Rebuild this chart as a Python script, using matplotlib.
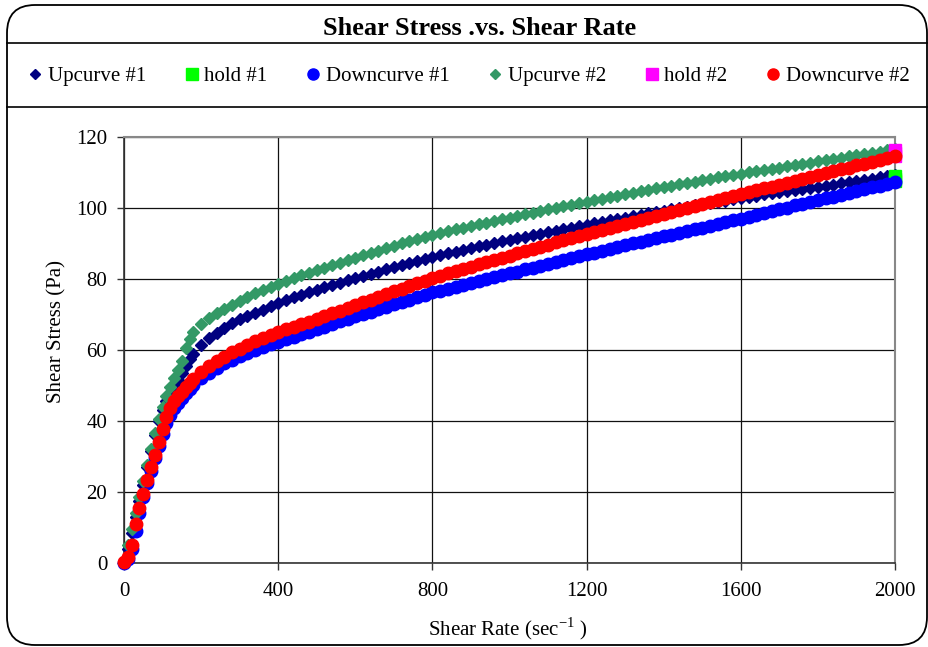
import matplotlib
matplotlib.use('Agg')
import matplotlib.pyplot as plt
from matplotlib.patches import FancyBboxPatch
from matplotlib.lines import Line2D

plt.rcParams['font.family'] = ['Liberation Serif', 'DejaVu Serif']
plt.rcParams['mathtext.fontset'] = 'custom'
plt.rcParams['mathtext.rm'] = 'Liberation Serif'

# shear rate (sec^-1), shared by all four curves
shear_rate = [0, 10, 20, 30, 40, 50, 60, 70, 80, 90, 100, 110, 120, 130, 140, 150, 160, 170, 180,
              200, 220, 240, 260, 280, 300, 320, 340, 360, 380, 400, 420, 440, 460, 480, 500,
              520, 540, 560, 580, 600, 620, 640, 660, 680, 700, 720, 740, 760, 780, 800,
              820, 840, 860, 880, 900, 920, 940, 960, 980, 1000, 1020, 1040, 1060, 1080, 1100,
              1120, 1140, 1160, 1180, 1200, 1220, 1240, 1260, 1280, 1300, 1320, 1340, 1360, 1380, 1400,
              1420, 1440, 1460, 1480, 1500, 1520, 1540, 1560, 1580, 1600, 1620, 1640, 1660, 1680, 1700,
              1720, 1740, 1760, 1780, 1800, 1820, 1840, 1860, 1880, 1900, 1920, 1940, 1960, 1980, 2000]

up_1 = [0.5, 4, 8.5, 13, 17.5, 22, 27, 31.5, 36, 40, 43, 45.5, 47.5, 49.5, 51.5, 53.5, 55.5, 57.5, 59,
        61.5, 63.3, 64.9, 66.3, 67.5, 68.6, 69.6, 70.5, 71.4, 72.3, 73.2, 74, 74.8, 75.6, 76.3, 77,
        77.7, 78.3, 79, 79.6, 80.3, 80.9, 81.5, 82.1, 82.7, 83.3, 83.9, 84.5, 85.1, 85.6, 86.2,
        86.7, 87.2, 87.7, 88.2, 88.7, 89.2, 89.7, 90.1, 90.6, 91.1, 91.5, 91.9, 92.4, 92.8, 93.2,
        93.6, 94.1, 94.5, 94.9, 95.3, 95.7, 96.1, 96.5, 96.9, 97.3, 97.7, 98.1, 98.5, 98.8, 99.2,
        99.6, 99.9, 100.3, 100.7, 101, 101.4, 101.7, 102.1, 102.4, 102.8, 103.1, 103.4, 103.8, 104.1, 104.4,
        104.7, 105, 105.4, 105.7, 106, 106.3, 106.6, 107, 107.3, 107.6, 107.9, 108.2, 108.6, 108.9, 109.2]

down_1 = [0, 1, 4, 9, 14, 18.5, 22.5, 26, 29.5, 33, 36.3, 39.3, 41.8, 43.6, 45.2, 46.6, 47.9, 49.1, 50.2,
          52, 53.6, 55, 56.2, 57.3, 58.3, 59.2, 60.1, 60.9, 61.6, 62.3, 63, 63.7, 64.5, 65.2, 65.9,
          66.6, 67.3, 68.1, 68.8, 69.5, 70.2, 70.8, 71.5, 72.2, 72.9, 73.5, 74.2, 74.9, 75.5, 76.2,
          76.7, 77.3, 77.8, 78.4, 78.9, 79.4, 80, 80.5, 81.1, 81.6, 82.1, 82.7, 83.2, 83.7, 84.3,
          84.8, 85.3, 85.8, 86.4, 86.9, 87.4, 87.9, 88.4, 88.9, 89.5, 90, 90.5, 91, 91.5, 92,
          92.5, 93, 93.5, 94, 94.5, 95, 95.5, 96, 96.5, 97, 97.5, 98.1, 98.6, 99.1, 99.6,
          100.1, 100.7, 101.2, 101.7, 102.2, 102.7, 103.2, 103.7, 104.2, 104.8, 105.3, 105.8, 106.3, 106.8, 107.3]

up_2 = [0.5, 5, 9.5, 14, 18.5, 23, 27.5, 32, 36.5, 40.5, 44, 47, 49.5, 52, 54.5, 57, 60.5, 63, 65,
        67.3, 68.9, 70.3, 71.6, 72.8, 73.9, 75, 76, 76.9, 77.8, 78.7, 79.5, 80.3, 81, 81.8, 82.5,
        83.2, 83.9, 84.6, 85.3, 86, 86.7, 87.4, 88, 88.7, 89.3, 90, 90.6, 91.3, 91.9, 92.5,
        93, 93.5, 94, 94.4, 94.9, 95.4, 95.9, 96.4, 96.8, 97.3, 97.8, 98.2, 98.7, 99.1, 99.6,
        100, 100.5, 100.9, 101.4, 101.8, 102.2, 102.6, 103, 103.4, 103.9, 104.3, 104.7, 105.1, 105.5, 105.9,
        106.3, 106.7, 107, 107.4, 107.8, 108.2, 108.6, 108.9, 109.3, 109.7, 110, 110.4, 110.7, 111.1, 111.4,
        111.8, 112.1, 112.5, 112.8, 113.2, 113.5, 113.8, 114.2, 114.5, 114.9, 115.2, 115.5, 115.9, 116.2, 116.5]

down_2 = [0.3, 1.8, 5, 11, 15.5, 19.5, 23.5, 27, 30.5, 34, 37.8, 41, 43.8, 45.5, 47, 48.3, 49.5, 50.7, 51.9,
          53.9, 55.4, 56.8, 58.1, 59.3, 60.4, 61.4, 62.4, 63.3, 64.2, 65, 65.8, 66.5, 67.3, 68, 68.8,
          69.6, 70.3, 71.1, 71.8, 72.6, 73.4, 74.2, 75, 75.7, 76.5, 77.2, 78, 78.8, 79.5, 80.3,
          80.9, 81.6, 82.2, 82.8, 83.5, 84.1, 84.7, 85.3, 86, 86.6, 87.2, 87.8, 88.4, 89, 89.7,
          90.3, 90.9, 91.5, 92.1, 92.7, 93.3, 93.8, 94.4, 95, 95.6, 96.1, 96.7, 97.3, 97.8, 98.4,
          99, 99.5, 100.1, 100.6, 101.2, 101.7, 102.2, 102.8, 103.3, 103.9, 104.4, 105, 105.5, 106, 106.6,
          107.1, 107.7, 108.2, 108.8, 109.3, 109.8, 110.4, 110.9, 111.4, 112, 112.5, 113, 113.5, 114.1, 114.6]

hold_rate = [2000, 2000, 2000]
hold_1 = [109.0, 108.3, 107.7]
hold_2 = [116.3, 115.5, 114.7]

fig = plt.figure(figsize=(9.29, 6.47), dpi=100)
ax = fig.add_axes([0.1335, 0.1298, 0.8299, 0.6585])

ax.plot(shear_rate, up_1, 'D', color='#000080', ms=6, mec='#000080', label='Upcurve #1', zorder=3, clip_on=False)
ax.plot(hold_rate, hold_1, 's', color='#00FF00', ms=8.5, mec='#00FF00', label='hold #1', zorder=4, clip_on=False)
ax.plot(shear_rate, down_1, 'o', color='#0000FF', ms=9, mec='#0000FF', label='Downcurve #1', zorder=5, clip_on=False)
ax.plot(shear_rate, up_2, 'D', color='#339966', ms=6, mec='#339966', label='Upcurve #2', zorder=6, clip_on=False)
ax.plot(hold_rate, hold_2, 's', color='#FF00FF', ms=8.5, mec='#FF00FF', label='hold #2', zorder=7, clip_on=False)
ax.plot(shear_rate, down_2, 'o', color='#FF0000', ms=9, mec='#FF0000', label='Downcurve #2', zorder=8, clip_on=False)

ax.set_xlim(0, 2000)
ax.set_ylim(0, 120)
ax.set_xticks([0, 400, 800, 1200, 1600, 2000])
ax.set_yticks([0, 20, 40, 60, 80, 100, 120])
ax.grid(True, color='#111111', linewidth=0.9)
ax.set_axisbelow(True)
ax.tick_params(direction='out', length=5, width=1, color='#333333', labelsize=15, pad=7)
ax.tick_params(axis='x', pad=9)
for side in ['left', 'bottom']:
    ax.spines[side].set_color('#333333')
    ax.spines[side].set_linewidth(1.2)
for side in ['top', 'right']:
    ax.spines[side].set_color('#888888')
    ax.spines[side].set_linewidth(1.5)

fig.text(0.061, 0.487, 'Shear Stress (Pa)', rotation=90, ha='center', va='center', fontsize=15)
fig.text(0.547, 0.029, r'Shear Rate (sec$^{\mathrm{-1}}$ )', ha='center', va='center', fontsize=15)
fig.text(0.516, 0.9567, 'Shear Stress .vs. Shear Rate', ha='center', va='center', fontsize=19, fontweight='bold')

leg = fig.legend(loc='center', bbox_to_anchor=(0.505, 0.8825), ncol=6, frameon=False, fontsize=15,
                 handlelength=0.6, handletextpad=0.3, columnspacing=1.9, borderpad=0)
for h in leg.legend_handles:
    if h.get_marker() == 'D':
        h.set_markersize(5)
    else:
        h.set_markersize(8)

# outer rounded frame and title / legend separators
fig.patches.append(FancyBboxPatch((0.07, 0.02), 9.20, 6.40, boxstyle='round,pad=0,rounding_size=0.28',
                                  transform=fig.dpi_scale_trans, fill=False, edgecolor='black', linewidth=1.3))
fig.lines.append(Line2D([0.07, 9.27], [6.04, 6.04], transform=fig.dpi_scale_trans, color='black', linewidth=1.2))
fig.lines.append(Line2D([0.07, 9.27], [5.40, 5.40], transform=fig.dpi_scale_trans, color='black', linewidth=1.2))

fig.savefig('out.png', dpi=100)
